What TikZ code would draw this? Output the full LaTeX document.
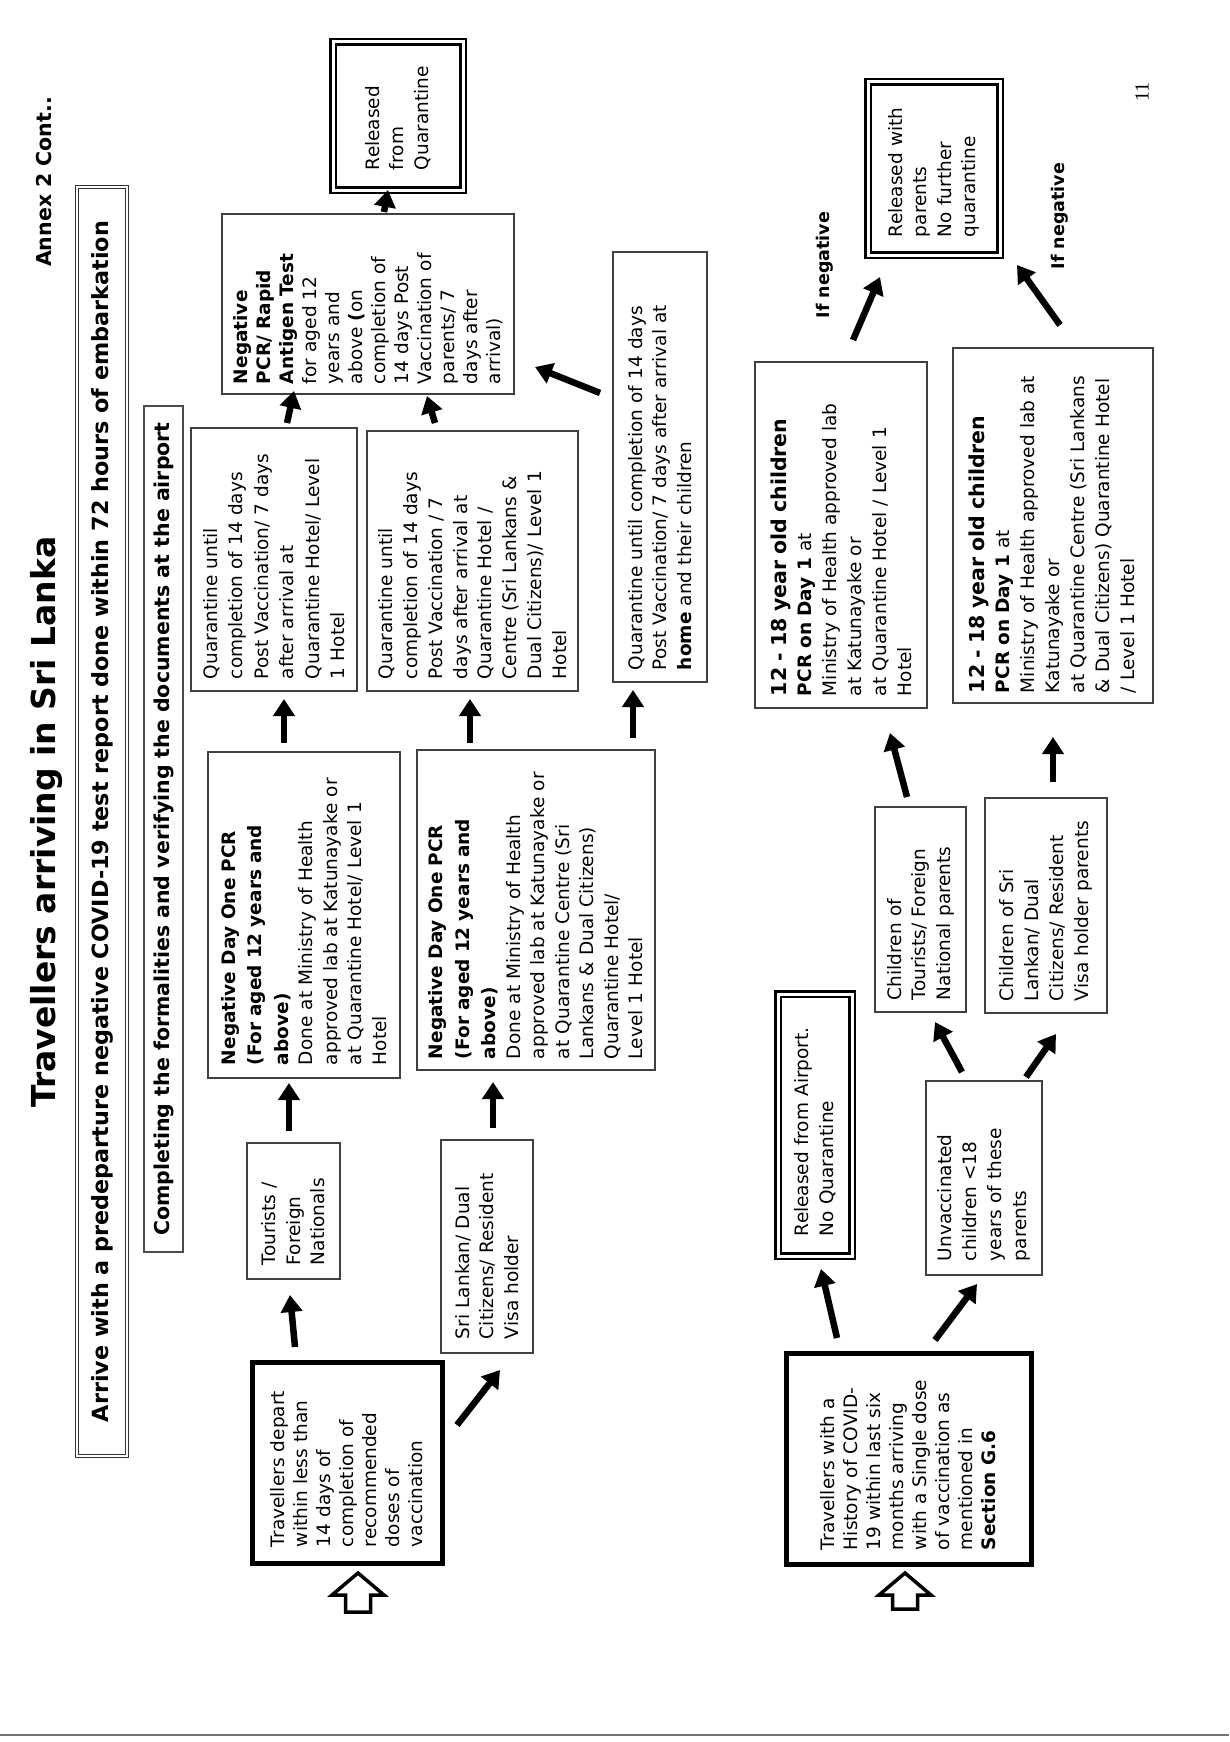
\documentclass[tikz,border=0pt]{standalone}
\usepackage{fontspec}
\setmainfont{DejaVu Sans}
\newfontfamily\pagenumfont{Liberation Serif}
\usetikzlibrary{arrows.meta}
\newcommand\flowbox[8]{%
  \pgfmathsetmacro\fbcx{(#3+#5)/2}%
  \pgfmathsetmacro\fbcy{(#4+#6)/2}%
  \pgfmathsetmacro\fbw{#6-#4}%
  \pgfmathsetmacro\fbh{#5-#3}%
  \pgfmathsetmacro\fbtw{#6-#4-2*#7}%
  \node[#1, minimum width=\fbw pt, minimum height=\fbh pt, text width=\fbtw pt] (#2) at (\fbcx,\fbcy) {#8};%
}
\begin{document}
\begin{tikzpicture}[x=1pt,y=-1pt,
  box/.style={draw=black!75, line width=1.3pt, rotate=90, align=left, inner xsep=0pt, inner ysep=0pt, font=\fontsize{18.5}{24.5}\selectfont},
  thickbox/.style={box, draw=black, line width=5pt},
  dbox/.style={box, draw=black, line width=2.2pt, double=white, double distance=3pt},
  arr/.style={line width=6.5pt, -{Triangle[width=21pt,length=17pt]}},
  hollow/.style={draw=black, line width=3.5pt, line join=miter, fill=white},
  lbl/.style={rotate=90, inner sep=0pt, font=\bfseries\fontsize{17.5}{21}\selectfont},
]
\fill[white] (0,0) rectangle (1229,1742);
\useasboundingbox (0,0) rectangle (1229,1742);

% headings
\node[lbl, font=\bfseries\fontsize{20.5}{24}\selectfont] (annex) at (44,182) {Annex 2 Cont..};
\node[lbl, font=\bfseries\fontsize{33}{38}\selectfont] (title) at (47,822) {Travellers arriving in Sri Lanka};
\node[rotate=90, draw=black!80, line width=1.1pt, double=white, double distance=2.5pt, minimum width=1269pt, minimum height=50pt, inner sep=0pt, font=\bfseries\fontsize{22.3}{26}\selectfont] (arrive) at (102,821.5) {Arrive with a predeparture negative COVID-19 test report done within 72 hours of embarkation};
\node[rotate=90, draw=black!70, line width=1.2pt, minimum width=846pt, minimum height=39pt, inner sep=0pt, font=\bfseries\fontsize{20.5}{24}\selectfont] (formal) at (163.5,829) {Completing the formalities and verifying the documents at the airport};

% first flow
\flowbox{thickbox, font=\fontsize{18.5}{23}\selectfont}{trav1}{252}{1362}{442}{1563}{16}{Travellers depart\\within less than\\14 days of\\completion of\\recommended\\doses of\\vaccination}
\flowbox{box}{tourists}{247}{1143}{340}{1279}{14}{Tourists /\\Foreign\\Nationals}
\flowbox{box}{slk}{441}{1140}{533}{1353}{14}{Sri Lankan/ Dual\\Citizens/ Resident\\Visa holder}
\flowbox{box}{pcr1}{208}{752}{400}{1078}{13}{\textbf{Negative Day One PCR}\\[2pt]\textbf{(For aged 12 years and}\\[2pt]\textbf{above)}\\Done at Ministry of Health\\approved lab at Katunayake or\\at Quarantine Hotel/ Level 1\\Hotel}
\flowbox{box}{pcr2}{417}{750}{655}{1070}{11}{\textbf{Negative Day One PCR}\\[2pt]\textbf{(For aged 12 years and}\\[2pt]\textbf{above)}\\Done at Ministry of Health\\approved lab at Katunayake or\\at Quarantine Centre (Sri\\Lankans \& Dual Citizens)\\Quarantine Hotel/\\Level 1 Hotel}
\flowbox{box, font=\fontsize{18.5}{25.5}\selectfont}{q1}{191}{428}{357}{691}{12}{Quarantine until\\completion of 14 days\\Post Vaccination/ 7 days\\after arrival at\\Quarantine Hotel/ Level\\1 Hotel}
\flowbox{box, font=\fontsize{18.5}{24.8}\selectfont}{q2}{367}{431}{578}{691}{12}{Quarantine until\\completion of 14 days\\Post Vaccination / 7\\days after arrival at\\Quarantine Hotel /\\Centre (Sri Lankans \&\\Dual Citizens)/ Level 1\\Hotel}
\flowbox{box}{q3}{613}{252}{707}{682}{12}{Quarantine until completion of 14 days\\Post Vaccination/ 7 days after arrival at\\\textbf{home} and their children}
\flowbox{box, font=\fontsize{18.5}{23}\selectfont}{rat}{222}{214}{514}{394}{10}{\textbf{Negative}\\\textbf{PCR/ Rapid}\\\textbf{Antigen Test}\\for aged 12\\years and\\above \textbf{(}on\\completion of\\14 days Post\\Vaccination of\\parents/ 7\\days after\\arrival)}
\flowbox{dbox}{rel1}{333}{42}{463}{190}{20}{Released\\from\\Quarantine}

% second flow
\flowbox{thickbox, font=\fontsize{18.5}{23}\selectfont}{trav2}{786}{1353}{1031}{1564}{14}{Travellers with a\\History of COVID-\\19 within last six\\months arriving\\with a Single dose\\of vaccination as\\mentioned in\\\textbf{Section G.6}}
\flowbox{dbox}{relair}{778}{994}{852}{1256}{20}{Released from Airport.\\No Quarantine}
\flowbox{box, font=\fontsize{18.5}{25}\selectfont}{unvac}{926}{1081}{1042}{1275}{14}{Unvaccinated\\children <18\\years of these\\parents}
\flowbox{box}{childt}{875}{807}{966}{1012}{12}{Children of\\Tourists/ Foreign\\National parents}
\flowbox{box, font=\fontsize{18.5}{25}\selectfont}{childs}{985}{798}{1107}{1013}{12}{Children of Sri\\Lankan/ Dual\\Citizens/ Resident\\Visa holder parents}
\flowbox{box, font=\fontsize{18.5}{25}\selectfont}{kida}{755}{362}{927}{708}{12}{{\bfseries\fontsize{20.5}{25}\selectfont 12 - 18 year old children}\\\textbf{PCR on Day 1} at\\Ministry of Health approved lab\\at Katunayake or\\at Quarantine Hotel / Level 1\\Hotel}
\flowbox{box, font=\fontsize{18.5}{25}\selectfont}{kidb}{953}{348}{1153}{703}{10}{{\bfseries\fontsize{20.5}{25}\selectfont 12 - 18 year old children}\\\textbf{PCR on Day 1} at\\Ministry of Health approved lab at\\Katunayake or\\at Quarantine Centre (Sri Lankans\\\& Dual Citizens) Quarantine Hotel\\/ Level 1 Hotel}
\flowbox{dbox}{relpar}{868}{82}{1000}{255}{18}{Released with\\parents\\No further\\quarantine}

\node[lbl] (neg1) at (825,265) {If negative};
\node[lbl] (neg2) at (1060,216) {If negative};
\node[rotate=90, inner sep=0pt, font=\pagenumfont\fontsize{20}{24}\selectfont] (pnum) at (1142,92) {11};

% hollow entry arrows
\draw[hollow] (358,1573) -- (384,1595) -- (370.5,1595) -- (370.5,1612) -- (345.5,1612) -- (345.5,1595) -- (332,1595) -- cycle;
\draw[hollow] (905,1573) -- (931,1595) -- (917.5,1595) -- (917.5,1609) -- (892.5,1609) -- (892.5,1595) -- (879,1595) -- cycle;

% connector end points
\coordinate (a1s) at (295,1347);  \coordinate (a1e) at (290,1295);
\coordinate (a2s) at (457,1425);  \coordinate (a2e) at (500,1370);
\coordinate (a3s) at (289,1131);  \coordinate (a3e) at (289,1083);
\coordinate (a4s) at (493,1128);  \coordinate (a4e) at (493,1082);
\coordinate (a5s) at (284,743);   \coordinate (a5e) at (284,699);
\coordinate (a6s) at (470,743);   \coordinate (a6e) at (470,699);
\coordinate (a7s) at (633,738);   \coordinate (a7e) at (633,690);
\coordinate (a8s) at (287,423);   \coordinate (a8e) at (294,391);
\coordinate (a9s) at (435,423);   \coordinate (a9e) at (427,396);
\coordinate (a10s) at (600,393);  \coordinate (a10e) at (535,367);
\coordinate (a11s) at (384,212);  \coordinate (a11e) at (388,190);
\coordinate (b1s) at (837,1338);  \coordinate (b1e) at (821,1269);
\coordinate (b2s) at (935,1340);  \coordinate (b2e) at (977,1284);
\coordinate (b3s) at (962,1072);  \coordinate (b3e) at (935,1022);
\coordinate (b4s) at (1026,1077); \coordinate (b4e) at (1056,1034);
\coordinate (b5s) at (907,797);   \coordinate (b5e) at (890,733);
\coordinate (b6s) at (1053,782);  \coordinate (b6e) at (1053,737);
\coordinate (b7s) at (853,340);   \coordinate (b7e) at (880,277);
\coordinate (b8s) at (1060,325);  \coordinate (b8e) at (1017,265);

\foreach \c in {a1,a2,a3,a4,a5,a6,a7,a8,a9,a10,a11,b1,b2,b3,b4,b5,b6,b7,b8}
  \draw[arr] (\c s) -- (\c e);

% scan edge line
\draw[black!55, line width=2pt] (0,1735) -- (1229,1735);
\end{tikzpicture}
\end{document}
